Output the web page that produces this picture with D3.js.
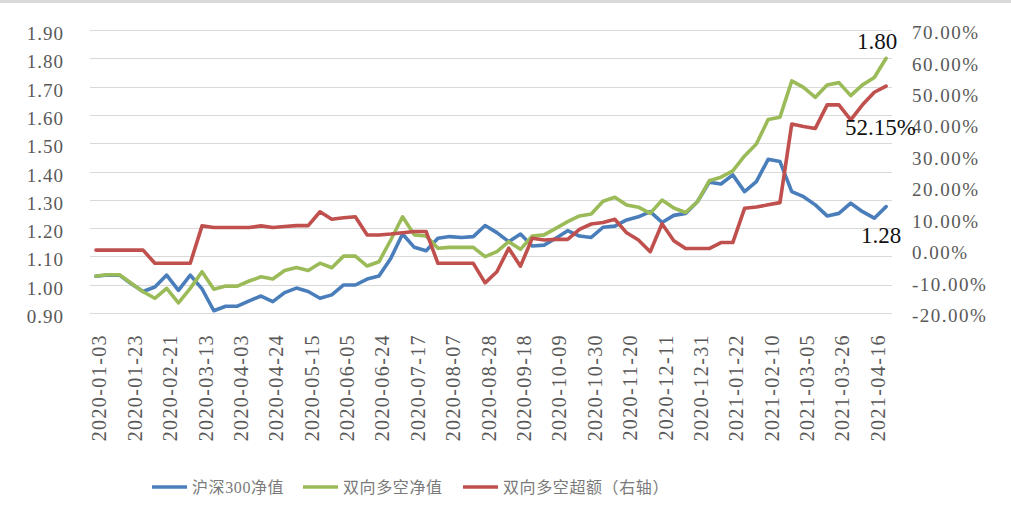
<!DOCTYPE html>
<html>
<head>
<meta charset="utf-8">
<script src="https://cdn.jsdelivr.net/npm/d3@7/dist/d3.min.js"></script>
<style>
  html, body { margin: 0; padding: 0; background: #fff; }
  svg { display: block; }
</style>
</head>
<body>
<svg id="chart" width="1011" height="513"></svg>
<script>
// ---------- data ----------
const dates = [
  "2020-01-03","2020-01-10","2020-01-17","2020-01-23","2020-02-07","2020-02-14","2020-02-21","2020-02-28",
  "2020-03-06","2020-03-13","2020-03-20","2020-03-27","2020-04-03","2020-04-10","2020-04-17","2020-04-24",
  "2020-04-30","2020-05-08","2020-05-15","2020-05-22","2020-05-29","2020-06-05","2020-06-12","2020-06-19",
  "2020-06-24","2020-07-03","2020-07-10","2020-07-17","2020-07-24","2020-07-31","2020-08-07","2020-08-14",
  "2020-08-21","2020-08-28","2020-09-04","2020-09-11","2020-09-18","2020-09-25","2020-09-30","2020-10-09",
  "2020-10-16","2020-10-23","2020-10-30","2020-11-06","2020-11-13","2020-11-20","2020-11-27","2020-12-04",
  "2020-12-11","2020-12-18","2020-12-25","2020-12-31","2021-01-08","2021-01-15","2021-01-22","2021-01-29",
  "2021-02-05","2021-02-10","2021-02-19","2021-02-26","2021-03-05","2021-03-12","2021-03-19","2021-03-26",
  "2021-04-02","2021-04-09","2021-04-16","2021-04-23"
];

// 沪深300净值 (left axis)
const hs300 = [
  1.030,1.034,1.034,1.003,0.976,0.992,1.034,0.980,1.034,0.985,0.908,0.924,0.924,0.943,0.960,0.940,
  0.972,0.988,0.976,0.952,0.964,0.999,0.999,1.020,1.031,1.093,1.179,1.132,1.120,1.164,1.170,1.167,
  1.170,1.209,1.184,1.152,1.179,1.137,1.140,1.164,1.191,1.172,1.167,1.203,1.207,1.229,1.240,1.258,
  1.220,1.245,1.252,1.293,1.362,1.356,1.388,1.329,1.364,1.443,1.435,1.329,1.311,1.282,1.243,1.252,
  1.288,1.258,1.235,1.276
];

// 双向多空净值 (left axis)
const longShort = [
  1.031,1.035,1.035,1.005,0.975,0.952,0.987,0.936,0.987,1.046,0.984,0.995,0.995,1.013,1.028,1.020,
  1.050,1.061,1.050,1.076,1.060,1.101,1.101,1.066,1.081,1.158,1.240,1.176,1.172,1.129,1.132,1.132,
  1.132,1.099,1.117,1.152,1.125,1.172,1.176,1.199,1.223,1.243,1.250,1.295,1.309,1.282,1.274,1.252,
  1.299,1.271,1.255,1.293,1.367,1.380,1.402,1.455,1.497,1.584,1.592,1.720,1.697,1.662,1.706,1.714,
  1.668,1.706,1.732,1.800
];

// 双向多空超额 (right axis, %)
const excess = [
  0,0,0,0,0,-4.2,-4.2,-4.2,-4.2,7.7,7.2,7.2,7.2,7.2,7.7,7.2,
  7.5,7.8,7.8,12.2,9.8,10.3,10.6,4.8,4.8,5.1,5.5,5.9,5.9,-4.2,-4.2,-4.2,
  -4.2,-10.4,-6.9,0.6,-5.1,3.8,3.2,3.4,3.4,6.6,8.3,8.8,9.8,5.5,3.2,-0.5,
  8.4,3.0,0.5,0.5,0.5,2.4,2.4,13.3,13.7,14.4,15.1,40.1,39.3,38.7,46.2,46.2,
  41.4,46.2,50.2,52.15
];

const leftTicks = [0.9,1.0,1.1,1.2,1.3,1.4,1.5,1.6,1.7,1.8,1.9];
const rightTicks = [-20,-10,0,10,20,30,40,50,60,70];
const xTickDates = dates.filter((d, i) => i % 3 === 0);

const seriesNames = ["沪深300净值", "双向多空净值", "双向多空超额（右轴）"];
const seriesColors = ["#4A7EBB", "#9BBB59", "#C0504D"];

// ---------- layout ----------
const svg = d3.select("#chart");
const plotL = 90, plotR = 892, plotT = 30, plotB = 313;
const serif = "'Liberation Serif','Times New Roman',serif";
const axisGray = "#595959";

const x = d3.scaleBand().domain(dates).range([plotL, plotR]).padding(0);
const xc = d => x(d) + x.bandwidth() / 2;
const yL = d3.scaleLinear().domain([0.9, 1.9]).range([plotB, plotT]);
const yR = d3.scaleLinear().domain([-20, 70]).range([plotB, plotT]);

// top border
svg.append("line").attr("x1", 0).attr("x2", 1011).attr("y1", 1.5).attr("y2", 1.5)
  .attr("stroke", "#d9d9d9").attr("stroke-width", 3);

// gridlines
svg.append("g").selectAll("line").data(leftTicks).join("line")
  .attr("x1", plotL).attr("x2", plotR)
  .attr("y1", d => Math.round(yL(d)) + 0.5).attr("y2", d => Math.round(yL(d)) + 0.5)
  .attr("stroke", "#d9d9d9").attr("stroke-width", 1);

// left axis
const gL = svg.append("g").attr("transform", `translate(${plotL},0)`)
  .call(d3.axisLeft(yL).tickValues(leftTicks).tickFormat(d3.format(".2f")).tickSize(0).tickPadding(26));
gL.select(".domain").remove();
gL.selectAll("text").attr("font-family", serif).attr("font-size", 19).attr("fill", axisGray)
  .attr("letter-spacing", 1).attr("dy", "0.5em");

// right axis
const gR = svg.append("g").attr("transform", `translate(${plotR},0)`)
  .call(d3.axisRight(yR).tickValues(rightTicks).tickFormat(d => d.toFixed(2) + "%").tickSize(0).tickPadding(20));
gR.select(".domain").remove();
gR.selectAll("text").attr("font-family", serif).attr("font-size", 19).attr("fill", axisGray)
  .attr("letter-spacing", 1.5).attr("dy", "0.45em");

// x axis labels
const gX = svg.append("g").attr("transform", `translate(0,${plotB})`)
  .call(d3.axisBottom(x).tickValues(xTickDates).tickSize(0));
gX.select(".domain").remove();
gX.selectAll("text")
  .attr("font-family", serif).attr("font-size", 20).attr("fill", axisGray).attr("letter-spacing", 1.4)
  .attr("transform", "rotate(-90)")
  .attr("text-anchor", "end")
  .attr("x", -21).attr("y", 3.5).attr("dy", "0.35em");

// lines
const lineL = d3.line().x((d, i) => xc(dates[i])).y(d => yL(d));
const lineR = d3.line().x((d, i) => xc(dates[i])).y(d => yR(d));
const g = svg.append("g").attr("fill", "none").attr("stroke-width", 3.6)
  .attr("stroke-linejoin", "round").attr("stroke-linecap", "round");
g.append("path").attr("d", lineL(hs300)).attr("stroke", seriesColors[0]);
g.append("path").attr("d", lineL(longShort)).attr("stroke", seriesColors[1]);
g.append("path").attr("d", lineR(excess)).attr("stroke", seriesColors[2]);

// end annotations
const last = dates.length - 1;
const ann = svg.append("g").attr("font-family", serif).attr("font-size", 23).attr("fill", "#111");
ann.append("text").attr("x", xc(dates[last]) - 29).attr("y", yL(longShort[last]) - 9)
  .text(longShort[last].toFixed(2));
ann.append("text").attr("x", xc(dates[last]) - 41).attr("y", yR(excess[last]) + 49)
  .text(excess[last].toFixed(2) + "%");
ann.append("text").attr("x", xc(dates[last]) - 25).attr("y", yL(hs300[last]) + 36)
  .text(hs300[last].toFixed(2));

// legend
const legendX = [152, 303, 463];
const lg = svg.append("g");
seriesNames.forEach((name, i) => {
  lg.append("line").attr("x1", legendX[i]).attr("x2", legendX[i] + 35)
    .attr("y1", 487).attr("y2", 487).attr("stroke", seriesColors[i]).attr("stroke-width", 3.5);
  lg.append("text").attr("x", legendX[i] + 40).attr("y", 493)
    .attr("font-family", "'Liberation Serif','Noto Sans CJK SC',serif")
    .attr("font-size", 16).attr("fill", "#7a7a7a").attr("letter-spacing", 0.6)
    .text(name);
});
</script>
</body>
</html>
